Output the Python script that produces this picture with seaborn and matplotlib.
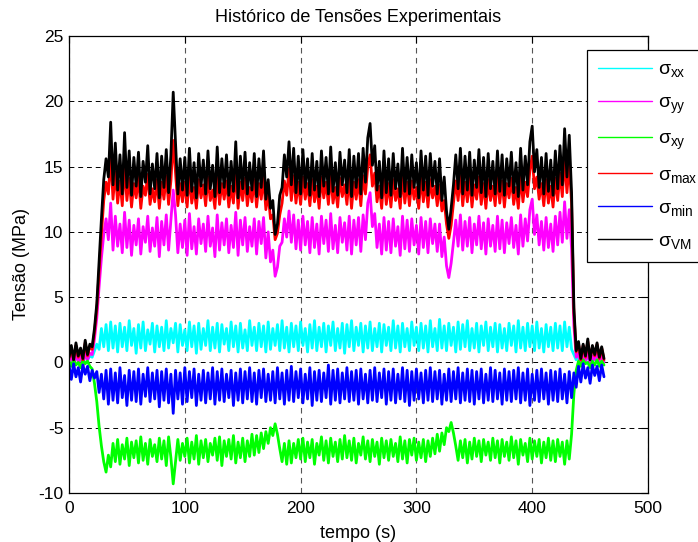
import numpy as np
import pandas as pd
import matplotlib
matplotlib.use("Agg")
import matplotlib.pyplot as plt
import seaborn as sns

# sample times (s), one reading every 2 s
tempo = np.arange(0, 463, 2)

sig_xx = [
    0.2, 0.5, -0.1, 0.6, 0.1, 0.4, -0.2, 0.7, 0.2, 0.5,
    0.4, 0.9, 1.4, 1.0, 2.6, 1.2, 2.9, 0.9, 3.1, 1.1,
    2.8, 0.8, 3.0, 1.2, 2.7, 0.9, 3.2, 1.3, 2.6, 0.7,
    2.9, 1.1, 3.1, 0.9, 2.5, 1.4, 3.0, 0.8, 2.8, 1.2,
    2.7, 0.9, 3.2, 1.1, 2.6, 1.5, 3.0, 0.8, 2.9, 1.3,
    2.5, 0.9, 3.1, 1.2, 2.8, 0.7, 3.0, 1.0, 2.6, 1.3,
    3.2, 0.9, 2.7, 1.1, 3.0, 0.8, 2.9, 1.4, 2.6, 0.9,
    3.1, 1.2, 2.8, 0.8, 3.0, 1.1, 2.5, 0.9, 3.2, 1.3,
    2.7, 0.9, 3.0, 1.2, 2.8, 0.8, 3.1, 1.0, 2.6, 1.3,
    2.9, 0.9, 3.2, 1.1, 2.7, 0.8, 3.0, 1.2, 2.8, 0.9,
    3.1, 1.3, 2.6, 0.8, 2.9, 1.1, 3.2, 0.9, 2.7, 1.2,
    3.0, 0.8, 2.8, 1.3, 3.1, 0.9, 2.6, 1.1, 3.0, 0.7,
    2.9, 1.2, 3.2, 0.9, 2.7, 1.3, 3.0, 0.8, 2.8, 1.1,
    3.1, 0.9, 2.6, 1.2, 3.0, 0.8, 2.9, 1.3, 2.7, 0.9,
    3.2, 1.1, 2.8, 0.8, 3.0, 1.2, 2.6, 0.9, 3.1, 1.3,
    2.7, 0.9, 3.0, 1.1, 2.8, 0.8, 3.2, 1.2, 2.6, 0.9,
    3.3, 1.1, 2.8, 0.9, 3.0, 1.3, 2.7, 0.8, 3.1, 1.0,
    2.9, 1.2, 3.2, 0.9, 2.6, 1.1, 3.0, 0.8, 2.8, 1.3,
    3.1, 0.9, 2.7, 1.2, 3.0, 0.8, 2.9, 1.1, 2.6, 0.9,
    3.0, 1.3, 2.8, 0.8, 3.2, 1.1, 2.7, 0.9, 3.0, 1.2,
    2.8, 0.9, 3.1, 1.1, 2.6, 0.8, 2.9, 1.2, 2.7, 0.9,
    3.0, 1.1, 2.8, 0.9, 3.1, 1.2, 2.7, 1.0, 0.6, 0.2,
    0.5, -0.1, 0.4, 0.1, 0.6, -0.2, 0.3, 0.2, 0.5, 0.0,
    0.4, 0.1,
]

sig_yy = [
    0.1, 0.6, -0.3, 0.8, 0.0, 0.5, -0.4, 0.9, 0.2, 0.7,
    0.6, 1.8, 3.4, 5.8, 8.0, 9.8, 11.0, 9.4, 12.2, 8.6,
    11.2, 8.9, 10.6, 8.4, 11.5, 8.8, 10.9, 8.2, 10.5, 9.0,
    11.0, 8.3, 10.4, 9.2, 11.2, 8.5, 10.3, 8.9, 11.1, 8.1,
    10.8, 9.0, 11.3, 8.6, 10.9, 13.2, 11.3, 8.4, 10.6, 8.8,
    10.9, 8.2, 11.4, 8.7, 10.4, 8.3, 11.0, 9.1, 10.6, 8.5,
    11.2, 8.9, 10.3, 8.1, 11.3, 8.6, 10.7, 9.0, 11.0, 8.4,
    10.5, 8.8, 11.5, 8.2, 10.9, 9.0, 11.1, 8.5, 10.4, 8.9,
    11.0, 8.3, 10.8, 9.1, 11.1, 8.0, 10.0, 7.7, 8.6, 6.6,
    7.3, 8.9, 9.2, 11.0, 9.6, 11.6, 9.2, 11.3, 8.7, 10.9,
    8.6, 11.2, 9.0, 10.8, 8.4, 11.1, 8.8, 10.6, 8.3, 11.2,
    9.1, 10.9, 8.5, 11.4, 8.7, 10.5, 8.4, 11.1, 9.2, 10.7,
    8.6, 11.2, 8.3, 10.9, 9.0, 11.1, 8.5, 11.3, 9.4, 12.2,
    13.0, 10.4, 11.4, 8.8, 10.6, 8.3, 11.1, 8.6, 10.8, 8.4,
    11.0, 8.9, 10.4, 8.2, 11.2, 8.7, 10.9, 8.5, 11.0, 9.0,
    10.5, 8.3, 11.1, 8.8, 10.8, 8.4, 11.0, 9.1, 10.6, 8.5,
    10.6, 8.1, 9.6, 7.4, 6.5, 7.6, 9.2, 10.9, 8.9, 11.3,
    8.6, 10.8, 8.9, 11.1, 8.4, 10.6, 9.0, 11.2, 8.7, 10.7,
    8.3, 11.0, 8.9, 10.5, 8.5, 11.2, 8.7, 10.9, 8.4, 10.7,
    9.1, 11.1, 8.8, 10.5, 8.3, 11.3, 8.9, 11.0, 9.3, 11.7,
    12.5, 9.8, 11.3, 9.0, 10.8, 8.6, 11.1, 8.8, 10.6, 8.5,
    11.2, 9.0, 11.5, 9.2, 12.3, 9.5, 11.7, 8.7, 2.8, 0.4,
    0.7, -0.2, 0.6, 0.1, 0.9, -0.3, 0.5, 0.2, 0.8, -0.1,
    0.6, 0.0,
]

sig_xy = [
    0.1, -0.3, 0.2, -0.2, 0.0, -0.4, 0.2, -0.1, 0.1, -0.3,
    -0.5, -1.6, -3.0, -4.9, -6.4, -7.6, -8.4, -7.1, -8.0, -6.2,
    -7.6, -5.9, -7.8, -6.3, -7.4, -5.8, -7.9, -6.1, -7.3, -6.0,
    -7.7, -5.7, -7.5, -6.2, -7.8, -5.9, -7.2, -6.3, -7.6, -5.8,
    -7.4, -6.0, -7.9, -5.7, -7.3, -9.3, -7.6, -5.9, -7.5, -6.2,
    -7.2, -5.8, -7.7, -6.1, -7.4, -5.6, -7.8, -6.0, -7.3, -5.9,
    -7.6, -6.2, -7.1, -5.8, -7.5, -5.7, -7.9, -6.0, -7.2, -5.9,
    -7.4, -5.6, -7.7, -6.1, -7.3, -5.8, -7.6, -6.0, -7.2, -5.5,
    -7.1, -5.6, -6.9, -5.4, -6.6, -5.3, -6.2, -5.0, -5.6, -4.7,
    -5.5, -6.6, -7.6, -6.2, -7.8, -6.0, -7.7, -6.2, -7.3, -5.9,
    -7.4, -5.8, -7.6, -6.1, -7.3, -5.9, -7.8, -6.2, -7.1, -5.7,
    -7.5, -6.0, -7.7, -5.8, -7.2, -6.1, -7.6, -5.9, -7.4, -5.6,
    -7.3, -6.0, -7.5, -5.8, -7.7, -6.2, -7.1, -5.7, -7.4, -6.0,
    -7.6, -5.9, -7.2, -6.1, -7.8, -5.8, -7.3, -6.0, -7.5, -5.9,
    -7.2, -6.2, -7.6, -5.7, -7.4, -6.0, -7.7, -5.9, -7.1, -5.8,
    -7.5, -6.1, -7.3, -5.9, -7.6, -6.0, -7.2, -5.8, -7.0, -5.5,
    -6.8, -5.4, -6.3, -5.0, -5.3, -4.6, -5.4, -6.4, -7.5, -6.0,
    -7.3, -5.9, -7.7, -6.1, -7.4, -5.8, -7.2, -6.0, -7.6, -5.9,
    -7.1, -6.1, -7.5, -5.8, -7.3, -6.0, -7.7, -5.9, -7.2, -6.1,
    -7.5, -5.7, -7.3, -6.0, -7.8, -5.9, -7.1, -6.2, -7.6, -5.8,
    -7.4, -6.0, -7.2, -5.9, -7.7, -6.1, -7.3, -5.8, -7.5, -6.0,
    -7.6, -5.9, -7.2, -6.1, -7.8, -6.0, -7.4, -5.5, -2.4, -0.6,
    0.1, -0.3, 0.2, -0.1, 0.0, -0.4, 0.1, -0.2, 0.2, -0.3,
    0.1, -0.2,
]

sig_max = [
    0.3, 1.1, 0.2, 1.3, 0.4, 1.0, 0.2, 1.5, 0.5, 1.2,
    1.0, 2.3, 4.1, 7.0, 9.8, 12.4, 13.8, 12.9, 15.8, 12.5,
    14.6, 12.2, 13.9, 12.0, 15.0, 12.4, 14.1, 11.9, 13.7, 12.6,
    14.2, 11.8, 13.5, 12.8, 14.4, 12.1, 13.3, 12.3, 14.0, 11.8,
    13.8, 12.5, 14.3, 12.1, 13.9, 17.0, 14.5, 12.0, 13.7, 12.3,
    13.8, 11.9, 14.3, 12.2, 13.4, 11.8, 14.0, 12.6, 13.6, 12.0,
    14.2, 12.4, 13.2, 11.8, 14.4, 12.1, 13.7, 12.5, 13.9, 11.9,
    13.5, 12.2, 14.7, 11.8, 13.8, 12.4, 14.1, 12.0, 13.4, 12.3,
    14.0, 11.9, 13.7, 12.5, 14.2, 11.7, 12.9, 11.0, 11.3, 9.4,
    9.9, 11.3, 12.2, 13.9, 12.8, 14.8, 12.4, 14.3, 12.2, 13.8,
    12.1, 14.2, 12.5, 13.7, 12.0, 14.0, 12.3, 13.5, 11.8, 14.2,
    12.6, 13.8, 12.1, 14.4, 12.2, 13.4, 11.9, 14.1, 12.7, 13.6,
    12.1, 14.2, 11.8, 13.8, 12.5, 14.0, 12.0, 14.3, 12.9, 15.0,
    15.9, 13.5, 14.5, 12.3, 13.5, 11.8, 14.2, 12.1, 13.7, 11.9,
    14.0, 12.4, 13.3, 11.8, 14.3, 12.2, 13.8, 12.0, 13.9, 12.5,
    13.4, 11.8, 14.2, 12.3, 13.8, 11.9, 14.0, 12.6, 13.5, 12.0,
    13.6, 11.6, 12.4, 10.6, 9.5, 10.5, 12.2, 13.9, 12.4, 14.3,
    12.0, 13.8, 12.3, 14.1, 11.9, 13.6, 12.5, 14.2, 12.1, 13.7,
    11.8, 14.0, 12.4, 13.5, 12.0, 14.2, 12.2, 13.9, 11.9, 13.7,
    12.6, 14.1, 12.1, 13.4, 11.8, 14.3, 12.3, 13.8, 12.7, 14.7,
    15.8, 13.3, 14.2, 12.5, 13.7, 12.0, 14.0, 12.2, 13.5, 11.9,
    14.1, 12.4, 14.5, 12.7, 15.6, 13.0, 15.2, 12.2, 3.8, 0.8,
    1.4, 0.2, 1.3, 0.4, 1.6, 0.3, 1.2, 0.5, 1.4, 0.3,
    1.1, 0.2,
]

sig_min = [
    -0.2, -1.3, -0.1, -1.1, -0.4, -1.5, -0.2, -0.9, -0.3, -1.4,
    -0.6, -1.2, -0.7, -2.3, -0.9, -2.8, -0.6, -3.2, -0.5, -2.9,
    -0.8, -3.1, -0.4, -2.7, -1.0, -3.3, -0.6, -2.9, -0.7, -3.0,
    -0.5, -3.2, -0.9, -2.6, -0.4, -3.0, -0.8, -2.8, -0.6, -3.4,
    -0.7, -2.9, -0.5, -3.1, -0.9, -3.9, -0.6, -2.8, -0.8, -3.2,
    -0.4, -3.0, -0.7, -2.7, -0.5, -3.3, -0.9, -2.9, -0.6, -3.1,
    -0.8, -2.8, -0.4, -3.2, -0.7, -2.9, -0.5, -3.0, -0.9, -2.7,
    -0.6, -3.3, -0.8, -2.9, -0.5, -3.1, -0.7, -2.8, -0.4, -3.0,
    -0.8, -3.2, -0.6, -2.7, -0.5, -3.0, -0.9, -2.9, -0.7, -3.1,
    -0.4, -2.8, -0.8, -3.2, -0.6, -2.9, -0.3, -3.0, -0.7, -2.7,
    -0.5, -3.1, -0.9, -2.8, -0.4, -3.3, -0.7, -2.9, -0.6, -3.0,
    -0.8, -2.7, -0.2, -3.2, -0.6, -2.9, -0.5, -3.1, -0.8, -2.8,
    -0.4, -3.0, -0.7, -2.9, -0.6, -3.2, -0.5, -2.8, -0.9, -3.1,
    -0.6, -2.9, -0.4, -3.0, -0.8, -2.7, -0.5, -3.2, -0.7, -2.9,
    -0.5, -3.1, -0.9, -2.8, -0.4, -3.0, -0.6, -3.3, -0.7, -2.9,
    -0.5, -2.8, -0.8, -3.1, -0.6, -2.9, -0.4, -3.0, -0.7, -2.8,
    -0.6, -3.2, -0.9, -2.9, -0.5, -3.0, -0.7, -2.8, -0.4, -3.1,
    -0.8, -2.9, -0.5, -3.0, -0.6, -3.2, -0.7, -2.8, -0.5, -3.1,
    -0.9, -2.9, -0.4, -3.0, -0.6, -2.8, -0.8, -3.2, -0.5, -2.9,
    -0.7, -3.0, -0.6, -2.8, -0.4, -3.1, -0.8, -2.9, -0.5, -3.3,
    -0.9, -2.9, -0.6, -3.0, -0.5, -2.8, -0.8, -3.2, -0.6, -2.9,
    -0.7, -3.0, -0.5, -2.8, -0.9, -3.1, -0.7, -2.7, -0.8, -1.9,
    -0.3, -1.5, -0.1, -1.2, -0.4, -1.6, -0.2, -1.0, -0.3, -1.4,
    -0.2, -1.1,
]

sig_vm = [
    0.4, 1.3, 0.2, 1.5, 0.5, 1.1, 0.3, 1.7, 0.6, 1.4,
    1.2, 2.6, 4.5, 7.8, 11.0, 14.0, 15.6, 14.2, 18.4, 13.6,
    16.8, 13.2, 15.9, 12.9, 17.6, 13.4, 16.2, 12.8, 15.7, 13.5,
    16.1, 12.7, 15.4, 13.8, 16.6, 12.9, 15.2, 13.3, 16.0, 12.6,
    15.8, 13.4, 16.3, 13.0, 15.9, 20.7, 16.8, 12.9, 15.6, 13.2,
    15.7, 12.8, 16.4, 13.1, 15.3, 12.6, 16.0, 13.5, 15.5, 12.9,
    16.2, 13.3, 15.1, 12.7, 16.5, 13.0, 15.6, 13.4, 15.9, 12.8,
    15.4, 13.1, 16.9, 12.6, 15.8, 13.3, 16.1, 12.9, 15.3, 13.2,
    16.0, 12.7, 15.6, 13.4, 16.2, 12.5, 14.0, 11.8, 12.4, 9.8,
    10.6, 12.8, 13.4, 15.9, 14.2, 16.9, 13.6, 16.4, 13.0, 15.8,
    12.9, 16.3, 13.4, 15.6, 12.8, 16.0, 13.2, 15.4, 12.7, 16.2,
    13.5, 15.7, 12.9, 16.5, 13.1, 15.3, 12.8, 16.1, 13.6, 15.5,
    13.0, 16.3, 12.7, 15.8, 13.4, 16.0, 12.9, 16.4, 13.8, 17.2,
    18.3, 15.1, 16.6, 13.2, 15.4, 12.6, 16.2, 13.0, 15.6, 12.8,
    16.0, 13.3, 15.2, 12.7, 16.4, 13.1, 15.7, 12.9, 15.9, 13.4,
    15.3, 12.6, 16.2, 13.2, 15.8, 12.8, 16.0, 13.5, 15.4, 12.9,
    15.6, 12.4, 14.2, 11.6, 10.2, 11.8, 13.6, 15.9, 13.3, 16.4,
    12.9, 15.8, 13.2, 16.1, 12.8, 15.5, 13.4, 16.3, 13.0, 15.7,
    12.7, 16.0, 13.3, 15.4, 12.9, 16.2, 13.1, 15.9, 12.8, 15.6,
    13.5, 16.1, 13.0, 15.3, 12.7, 16.4, 13.2, 15.8, 13.6, 16.9,
    18.1, 14.6, 16.3, 13.4, 15.7, 12.9, 16.0, 13.1, 15.5, 12.8,
    16.2, 13.3, 16.6, 13.6, 17.9, 14.2, 17.4, 13.0, 4.2, 0.9,
    1.6, 0.3, 1.4, 0.5, 1.8, 0.2, 1.3, 0.6, 1.5, 0.4,
    1.2, 0.3,
]

series_names = ["xx", "yy", "xy", "max", "min", "VM"]
series_values = [sig_xx, sig_yy, sig_xy, sig_max, sig_min, sig_vm]
series_colors = ["#00FFFF", "#FF00FF", "#00FF00", "#FF0000", "#0000FF", "#000000"]

x_ticks = [0, 100, 200, 300, 400, 500]
y_ticks = [-10, -5, 0, 5, 10, 15, 20, 25]

for name, vals in zip(series_names, series_values):
    assert len(vals) == len(tempo), (name, len(vals), len(tempo))

sns.set_style("white")
plt.rcParams["font.family"] = ["Liberation Sans", "DejaVu Sans"]
plt.rcParams["text.color"] = "black"
plt.rcParams["axes.labelcolor"] = "black"
plt.rcParams["axes.unicode_minus"] = False
plt.rcParams["mathtext.fontset"] = "custom"
plt.rcParams["mathtext.rm"] = "Liberation Sans"
plt.rcParams["mathtext.it"] = "Liberation Sans"
plt.rcParams["mathtext.bf"] = "Liberation Sans:bold"

labels = [r"$\sigma_{\mathrm{%s}}$" % n for n in series_names]
frames = []
for lbl, vals in zip(labels, series_values):
    frames.append(pd.DataFrame({"t": tempo, "valor": vals, "serie": lbl}))
df = pd.concat(frames, ignore_index=True)

fig = plt.figure(figsize=(6.98, 5.42), dpi=100)
ax = fig.add_axes([69 / 698, 1 - 493 / 542, (648 - 69) / 698, (493 - 36) / 542])

sns.lineplot(data=df, x="t", y="valor", hue="serie", hue_order=labels,
             palette=dict(zip(labels, series_colors)), estimator=None,
             sort=False, linewidth=2.0, legend=False, ax=ax)

ax.set_xlim(0, 500)
ax.set_ylim(-10, 25)
ax.set_xticks(x_ticks)
ax.set_yticks(y_ticks)
ax.tick_params(direction="in", length=5, width=0.8, top=True, right=True,
               labelsize=12.5, colors="black")
ax.tick_params(axis="x", pad=6)
ax.tick_params(axis="y", pad=4)
ax.yaxis.grid(True, color="black", linestyle=(0, (5, 4)), linewidth=0.7)
ax.xaxis.grid(True, color="#555555", linestyle=(0, (5, 4)), linewidth=0.8)
for sp in ax.spines.values():
    sp.set_visible(True)
    sp.set_color("black")
    sp.set_linewidth(0.9)

ax.set_title("Histórico de Tensões Experimentais", fontsize=13, pad=10,
             color="black")
ax.set_xlabel("tempo (s)", fontsize=13, labelpad=6, color="black")
ax.set_ylabel("Tensão (MPa)", fontsize=13, labelpad=6, color="black")

handles = ax.get_lines()[:len(labels)]
leg = ax.legend(handles, labels, loc="upper left",
                bbox_to_anchor=(587 / 698, 1 - 50 / 542),
                bbox_transform=fig.transFigure, borderaxespad=0,
                fontsize=14, handlelength=2.8, handletextpad=0.3,
                labelspacing=0.75, borderpad=0.55, frameon=True,
                fancybox=False, framealpha=1, edgecolor="black",
                labelcolor="black")
leg.get_frame().set_linewidth(0.9)
for h in leg.legend_handles:
    h.set_linewidth(1.0)

fig.savefig("out.png", dpi=100)
